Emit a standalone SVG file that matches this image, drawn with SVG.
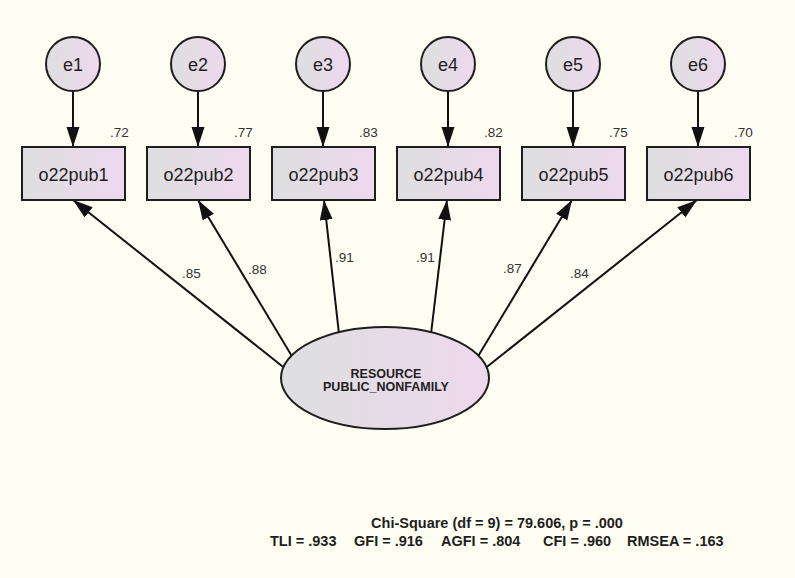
<svg xmlns="http://www.w3.org/2000/svg" width="795" height="578" viewBox="0 0 795 578">
  <defs>
    <linearGradient id="fillGrad" x1="0" y1="0" x2="1" y2="0">
      <stop offset="0" stop-color="#dddfdf"/>
      <stop offset="1" stop-color="#eed8ee"/>
    </linearGradient>
    <marker id="arrow" markerUnits="userSpaceOnUse" markerWidth="22" markerHeight="14" refX="20" refY="6.5" orient="auto">
      <path d="M0,0 L20,6.5 L0,13 Z" fill="#111"/>
    </marker>
    <style>
      .node { fill: url(#fillGrad); stroke: #1e1e1e; stroke-width: 2; }
      .conn { stroke: #111; stroke-width: 2; fill: none; marker-end: url(#arrow); }
      .lbl { font-family: "Liberation Sans", Arial, sans-serif; fill: #1e1e1e; }
      .name { font-size: 18px; text-anchor: middle; }
      .coef { font-size: 13.5px; fill: #333; }
      .lat { font-size: 12.5px; font-weight: bold; text-anchor: middle; }
      .fit { font-size: 14.5px; font-weight: bold; }
    </style>
  </defs>

  <rect x="0" y="0" width="795" height="578" fill="#fefef2"/>

  <!-- regression paths -->
  <g id="connectors">
    <line class="conn" x1="73" y1="92" x2="73" y2="147"/>
    <line class="conn" x1="198" y1="92" x2="198" y2="147"/>
    <line class="conn" x1="323" y1="92" x2="323" y2="147"/>
    <line class="conn" x1="448" y1="92" x2="448" y2="147"/>
    <line class="conn" x1="573" y1="92" x2="573" y2="147"/>
    <line class="conn" x1="698" y1="92" x2="698" y2="147"/>

    <line class="conn" x1="287" y1="370" x2="73" y2="200"/>
    <line class="conn" x1="293" y1="358" x2="198" y2="200"/>
    <line class="conn" x1="339" y1="334" x2="324" y2="200"/>
    <line class="conn" x1="431" y1="334" x2="447" y2="200"/>
    <line class="conn" x1="477" y1="358" x2="572" y2="200"/>
    <line class="conn" x1="483" y1="370" x2="697" y2="200"/>
  </g>

  <!-- loadings -->
  <g id="loadings" class="lbl coef">
    <text x="182" y="278">.85</text>
    <text x="248" y="274">.88</text>
    <text x="335" y="262">.91</text>
    <text x="416" y="262">.91</text>
    <text x="503" y="273">.87</text>
    <text x="570" y="278">.84</text>
  </g>

  <!-- error terms -->
  <g id="e1"><circle class="node" cx="73" cy="64" r="27"/><text class="lbl name" x="73" y="70.5">e1</text></g>
  <g id="e2"><circle class="node" cx="198" cy="64" r="27"/><text class="lbl name" x="198" y="70.5">e2</text></g>
  <g id="e3"><circle class="node" cx="323" cy="64" r="27"/><text class="lbl name" x="323" y="70.5">e3</text></g>
  <g id="e4"><circle class="node" cx="448" cy="64" r="27"/><text class="lbl name" x="448" y="70.5">e4</text></g>
  <g id="e5"><circle class="node" cx="573" cy="64" r="27"/><text class="lbl name" x="573" y="70.5">e5</text></g>
  <g id="e6"><circle class="node" cx="698" cy="64" r="27"/><text class="lbl name" x="698" y="70.5">e6</text></g>

  <!-- observed indicators -->
  <g id="o22pub1"><rect class="node" x="22" y="147" width="103" height="53"/><text class="lbl name" x="73.5" y="180.5">o22pub1</text><text class="lbl coef" x="110" y="137" font-size="13">.72</text></g>
  <g id="o22pub2"><rect class="node" x="147" y="147" width="103" height="53"/><text class="lbl name" x="198.5" y="180.5">o22pub2</text><text class="lbl coef" x="234" y="137" font-size="13">.77</text></g>
  <g id="o22pub3"><rect class="node" x="272" y="147" width="103" height="53"/><text class="lbl name" x="323.5" y="180.5">o22pub3</text><text class="lbl coef" x="359" y="137" font-size="13">.83</text></g>
  <g id="o22pub4"><rect class="node" x="397" y="147" width="103" height="53"/><text class="lbl name" x="448.5" y="180.5">o22pub4</text><text class="lbl coef" x="484" y="137" font-size="13">.82</text></g>
  <g id="o22pub5"><rect class="node" x="522" y="147" width="103" height="53"/><text class="lbl name" x="573.5" y="180.5">o22pub5</text><text class="lbl coef" x="609" y="137" font-size="13">.75</text></g>
  <g id="o22pub6"><rect class="node" x="647" y="147" width="103" height="53"/><text class="lbl name" x="698.5" y="180.5">o22pub6</text><text class="lbl coef" x="734" y="137" font-size="13">.70</text></g>

  <!-- latent factor -->
  <g id="resource">
    <ellipse class="node" cx="385" cy="378" rx="104" ry="51"/>
    <text class="lbl lat" x="386" y="378">RESOURCE</text>
    <text class="lbl lat" x="386" y="391">PUBLIC_NONFAMILY</text>
  </g>

  <!-- fit statistics -->
  <g id="fit" class="lbl fit">
    <text x="497" y="528" text-anchor="middle">Chi-Square (df = 9) = 79.606, p = .000</text>
    <text y="546"><tspan x="270">TLI = .933</tspan><tspan x="354">GFI = .916</tspan><tspan x="441">AGFI = .804</tspan><tspan x="543">CFI = .960</tspan><tspan x="627">RMSEA = .163</tspan></text>
  </g>
</svg>
